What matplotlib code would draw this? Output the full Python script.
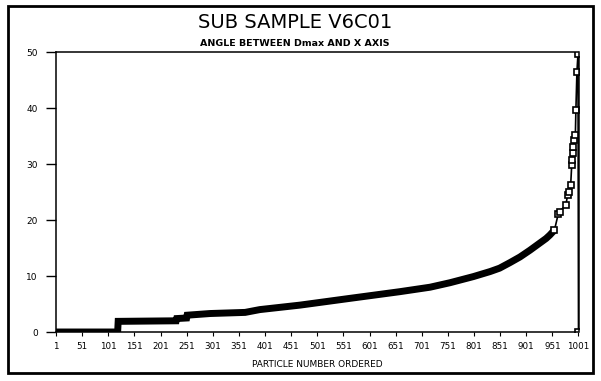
import matplotlib
matplotlib.use("Agg")
import matplotlib.pyplot as plt
from matplotlib.patches import Rectangle

# particle rank (ordered) and angle
rank = [1, 119, 120, 231, 232, 251, 252, 296, 363, 391, 468, 563, 659, 717,
        755, 800, 832, 850, 870, 889, 908, 939, 946, 955]
angle = [0.0, 0.0, 1.9, 2.0, 2.4, 2.5, 3.0, 3.3, 3.5, 4.0, 4.8, 6.0, 7.2, 8.0,
         8.8, 9.9, 10.8, 11.4, 12.4, 13.4, 14.6, 16.7, 17.3, 18.2]

# sparse tail where the single squares can be seen
tail_rank = [955, 962, 965, 977, 980, 983, 986, 988, 989, 990, 991, 993,
             995, 996, 998, 1000, 1001]
tail_angle = [18.2, 21.0, 21.5, 22.7, 24.5, 25.0, 26.2, 29.8, 30.7, 31.9,
              33.1, 34.3, 35.2, 39.6, 46.5, 49.6, 0.0]

xticks = list(range(1, 1002, 50))
yticks = [0, 10, 20, 30, 40, 50]

fig = plt.figure(figsize=(6.01, 3.81), dpi=100)
fig.patch.set_facecolor("white")

# outer frame of the page
fig.patches.append(Rectangle((8 / 601, 1 - 373 / 381), 585 / 601, 367 / 381,
                             transform=fig.transFigure, fill=False,
                             edgecolor="black", linewidth=2))

ax = fig.add_axes([56 / 601, 1 - 332 / 381, 522.5 / 601, 280 / 381])

ax.plot(rank, angle, color="black", linewidth=5, solid_capstyle="butt",
        solid_joinstyle="miter")
ax.plot(tail_rank, tail_angle, color="black", linewidth=1.2, marker="s",
        markersize=5, markerfacecolor="white", markeredgecolor="black",
        markeredgewidth=1.2)

ax.set_xlim(1, 1001)
ax.set_ylim(0, 50)
ax.set_xticks(xticks)
ax.set_xticklabels([str(t) for t in xticks], fontsize=6.3)
ax.set_yticks(yticks)
ax.set_yticklabels([str(t) for t in yticks], fontsize=6.5)
ax.tick_params(axis="x", direction="out", length=3, width=0.8, pad=4)
ax.tick_params(axis="y", direction="out", length=7, width=1, pad=6)
for s in ax.spines.values():
    s.set_linewidth(1.1)

ax.set_xlabel("PARTICLE NUMBER ORDERED", fontsize=6.5, labelpad=7)

fig.text(295 / 601, 1 - 23 / 381, "SUB SAMPLE V6C01", fontsize=14,
         ha="center", va="center", color="black")
fig.text(295 / 601, 1 - 44 / 381, "ANGLE BETWEEN Dmax AND X AXIS",
         fontsize=6.8, ha="center", va="center", fontweight="bold")

fig.savefig("out.png", dpi=100, facecolor="white")
